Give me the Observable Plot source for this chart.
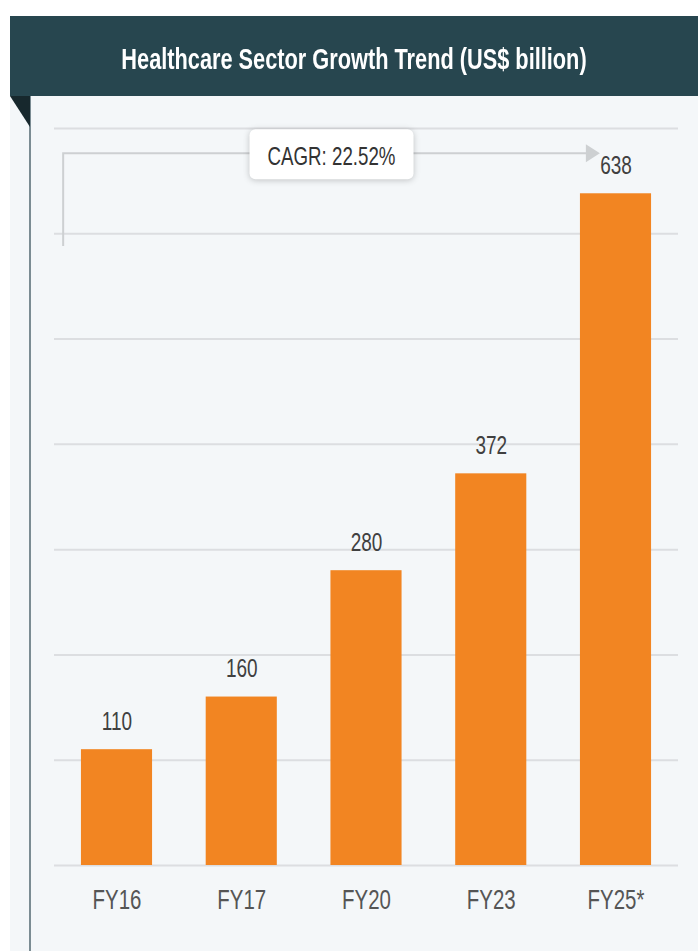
<!DOCTYPE html>
<html>
<head>
<meta charset="utf-8">
<script src="https://cdn.jsdelivr.net/npm/d3@7"></script>
<script src="https://cdn.jsdelivr.net/npm/@observablehq/plot@0.6"></script>
<style>
  html, body { margin: 0; padding: 0; background: #ffffff; }
  #page { position: relative; width: 698px; height: 951px; overflow: hidden;
          font-family: "Liberation Sans", Arial, sans-serif; }
  #header { position: absolute; left: 10px; top: 16px; width: 688px; height: 80px; background: #27464f; }
  #title { position: absolute; left: 0; right: 0; top: 26px; text-align: center; color: #ffffff;
           font-weight: bold; font-size: 29px; line-height: 34px; white-space: nowrap;
           transform: scaleX(0.75); transform-origin: 50% 50%; }
  #panel { position: absolute; left: 10px; top: 96px; width: 688px; height: 855px; background: #f4f7f9; }
  #vline { position: absolute; left: 29px; top: 96px; width: 2px; height: 855px; background: #7b8c93; }
  #fold { position: absolute; left: 10px; top: 96px; width: 20px; height: 31px; background: #17282d;
          clip-path: polygon(0 0, 100% 0, 100% 100%); }
  #chart { position: absolute; left: 0; top: 96px; }
  #chart svg { background: transparent; overflow: visible; }
</style>
</head>
<body>
<div id="page">
  <div id="header"><div id="title"></div></div>
  <div id="panel"></div>
  <div id="vline"></div>
  <div id="fold"></div>
  <div id="chart"></div>
</div>
<script>
const titleText = "Healthcare Sector Growth Trend (US$ billion)";
const categories = ["FY16", "FY17", "FY20", "FY23", "FY25*"];
const values = [110, 160, 280, 372, 638];
const yTicks = [0, 100, 200, 300, 400, 500, 600, 700];
const cagrLabel = "CAGR: 22.52%";
const cagrLevels = [676, 588]; // horizontal connector level, bottom of left leg (value units)

document.getElementById("title").textContent = titleText;

const data = categories.map((c, i) => ({category: c, value: values[i]}));
const FONT = '"Liberation Sans", Arial, sans-serif';
const NARROW = 0.73;

function cagrMark(index, scales) {
  const x = scales.x, y = scales.y;
  const bw = x.bandwidth();
  const x0 = x(categories[0]) - bw * 0.25;
  const x1 = x(categories[categories.length - 1]) + bw * 0.28;
  const yh = y(cagrLevels[0]);
  const yb = y(cagrLevels[1]);
  const g = d3.create("svg:g");
  const stroke = "#cdd0d2";
  g.append("path")
    .attr("d", `M${x0},${yb}V${yh}H${x1 - 13}`)
    .attr("fill", "none").attr("stroke", stroke).attr("stroke-width", 2);
  g.append("path")
    .attr("d", `M${x1 - 14},${yh - 9}L${x1},${yh}L${x1 - 14},${yh + 9}Z`)
    .attr("fill", stroke);
  const cx = (x0 + x1) / 2;
  const bwBox = 164, bhBox = 50;
  g.append("rect")
    .attr("x", cx - bwBox / 2).attr("y", yh - bhBox / 2 + 1)
    .attr("width", bwBox).attr("height", bhBox).attr("rx", 6)
    .attr("fill", "#ffffff")
    .style("filter", "drop-shadow(0px 1px 3px rgba(0,0,0,0.22))");
  g.append("text")
    .attr("transform", `translate(${cx},${yh + 2 + 0.358 * 26}) scale(0.72,1)`)
    .attr("text-anchor", "middle")
    .attr("font-size", 26).attr("fill", "#333333")
    .attr("font-family", FONT)
    .text(cagrLabel);
  return g.node();
}

const chart = Plot.plot({
  width: 698,
  height: 855,
  marginTop: 32,
  marginBottom: 86,
  marginLeft: 54,
  marginRight: 20,
  style: {background: "transparent", fontFamily: FONT},
  x: {domain: categories, paddingInner: 0.43, paddingOuter: 0.216, round: false, label: null},
  y: {domain: [0, 700], label: null, axis: null},
  marks: [
    Plot.gridY(yTicks, {stroke: "#dcdee1", strokeOpacity: 1, strokeWidth: 2}),
    Plot.barY(data, {x: "category", y: "value", fill: "#f28522"}),
    Plot.text(data, {x: "category", y: "value", text: d => String(d.value), dy: -28,
                     fontSize: 26, fill: "#404040"}),
    Plot.axisX({tickSize: 0, tickPadding: 24, fontSize: 28, color: "#555555", label: null}),
    cagrMark
  ]
});

// condense the label glyphs horizontally (narrow typeface look)
d3.select(chart).selectAll("g[aria-label='text'] text, g[aria-label='x-axis tick label'] text").each(function() {
  const t = this.getAttribute("transform");
  if (t && t.includes("translate")) {
    this.setAttribute("transform", t + ` scale(${NARROW},1)`);
  } else {
    const xv = +this.getAttribute("x") || 0, yv = +this.getAttribute("y") || 0;
    this.removeAttribute("x"); this.removeAttribute("y");
    this.setAttribute("transform", `translate(${xv},${yv}) scale(${NARROW},1)` + (t ? " " + t : ""));
  }
});
document.getElementById("chart").appendChild(chart);
</script>
</body>
</html>
